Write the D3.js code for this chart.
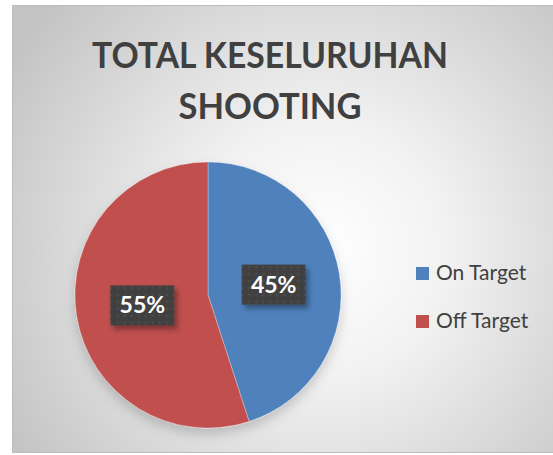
<!DOCTYPE html>
<html>
<head>
<meta charset="utf-8">
<script src="https://cdn.jsdelivr.net/npm/d3@7"></script>
<style>
  body { margin: 0; background: #ffffff; }
  svg { display: block; }
</style>
</head>
<body>
<div class="canva"></div>
<script>
// chart data
const categories = ["On Target", "Off Target"];
const values = [45, 55];
const colors = ["#4f81bd", "#c0504d"];
const titleLines = ["TOTAL KESELURUHAN", "SHOOTING"];

const width = 553, height = 455;

const svg = d3.select(".canva").append("svg")
              .attr("width", width)
              .attr("height", height);

const defs = svg.append("defs");

// background gradient
const grad = defs.append("radialGradient")
                 .attr("id", "bg")
                 .attr("gradientUnits", "userSpaceOnUse")
                 .attr("cx", 320).attr("cy", 250).attr("r", 360);
grad.append("stop").attr("offset", "0%").attr("stop-color", "#ffffff");
grad.append("stop").attr("offset", "35%").attr("stop-color", "#f2f2f2");
grad.append("stop").attr("offset", "100%").attr("stop-color", "#c4c4c4");

// soft shadow for pie
const pieShadow = defs.append("filter").attr("id", "pieShadow")
                      .attr("x", "-20%").attr("y", "-20%").attr("width", "140%").attr("height", "150%");
pieShadow.append("feDropShadow")
         .attr("dx", 0).attr("dy", 6).attr("stdDeviation", 6)
         .attr("flood-color", "#000").attr("flood-opacity", 0.18);

// shadow for data label boxes
const boxShadow = defs.append("filter").attr("id", "boxShadow")
                      .attr("x", "-20%").attr("y", "-20%").attr("width", "150%").attr("height", "160%");
boxShadow.append("feDropShadow")
         .attr("dx", 3).attr("dy", 4).attr("stdDeviation", 2.5)
         .attr("flood-color", "#000").attr("flood-opacity", 0.35);

// dotted pattern for label boxes
const pat = defs.append("pattern").attr("id", "dots")
                .attr("patternUnits", "userSpaceOnUse")
                .attr("width", 7).attr("height", 7);
pat.append("rect").attr("width", 7).attr("height", 7).attr("fill", "#404040");
pat.append("circle").attr("cx", 3.5).attr("cy", 3.5).attr("r", 1.1).attr("fill", "#555555");

// chart area
svg.append("rect")
   .attr("x", 12.5).attr("y", 5.5)
   .attr("width", 545).attr("height", 447)
   .attr("fill", "url(#bg)")
   .attr("stroke", "#bdbdbd")
   .attr("stroke-width", 1);

// title
const title = svg.append("g").attr("fill", "#404040")
                 .attr("font-family", "Lato, 'Open Sans', sans-serif")
                 .attr("font-weight", "bold")
                 .attr("text-anchor", "middle");
title.selectAll("text")
     .data(titleLines)
     .join("text")
     .attr("x", 270)
     .attr("y", (d, i) => 68 + i * 51)
     .attr("font-size", 37)
     .attr("textLength", (d, i) => i === 0 ? 356 : 183)
     .attr("lengthAdjust", "spacingAndGlyphs")
     .text(d => d);

// pie
const cx = 208, cy = 295, r = 133;
const data = categories.map((c, i) => ({ category: c, value: values[i], color: colors[i] }));

const pie = d3.pie().value(d => d.value).sort(null);
const arc = d3.arc().innerRadius(0).outerRadius(r);
const labelArc = d3.arc().innerRadius(r / 2).outerRadius(r / 2);
const total = d3.sum(values);

const pieG = svg.append("g").attr("transform", `translate(${cx}, ${cy})`);

pieG.append("g").attr("filter", "url(#pieShadow)")
    .selectAll("path")
    .data(pie(data))
    .join("path")
    .attr("d", arc)
    .attr("fill", d => d.data.color)
    .attr("stroke", "#ffffff")
    .attr("stroke-opacity", 0.35)
    .attr("stroke-width", 0.8);

// data labels
const labels = pieG.selectAll("g.label")
                   .data(pie(data))
                   .join("g")
                   .attr("class", "label")
                   .attr("transform", d => `translate(${labelArc.centroid(d)})`);

labels.append("rect")
      .attr("x", -32).attr("y", -20)
      .attr("width", 64).attr("height", 40)
      .attr("fill", "url(#dots)")
      .attr("filter", "url(#boxShadow)");

labels.append("text")
      .attr("text-anchor", "middle")
      .attr("dy", "0.35em")
      .attr("fill", "#ffffff")
      .attr("font-family", "Lato, 'Open Sans', sans-serif")
      .attr("font-weight", "bold")
      .attr("font-size", 23)
      .text(d => Math.round(d.data.value / total * 100) + "%");

// legend
const legend = svg.append("g").attr("transform", "translate(416, 267)");
const items = legend.selectAll("g")
                    .data(data)
                    .join("g")
                    .attr("transform", (d, i) => `translate(0, ${i * 48})`);
items.append("rect")
     .attr("width", 13).attr("height", 13)
     .attr("fill", d => d.color);
items.append("text")
     .attr("x", 20).attr("y", 13)
     .attr("fill", "#404040")
     .attr("font-family", "Lato, 'Open Sans', sans-serif")
     .attr("font-size", 21)
     .text(d => d.category);
</script>
</body>
</html>
